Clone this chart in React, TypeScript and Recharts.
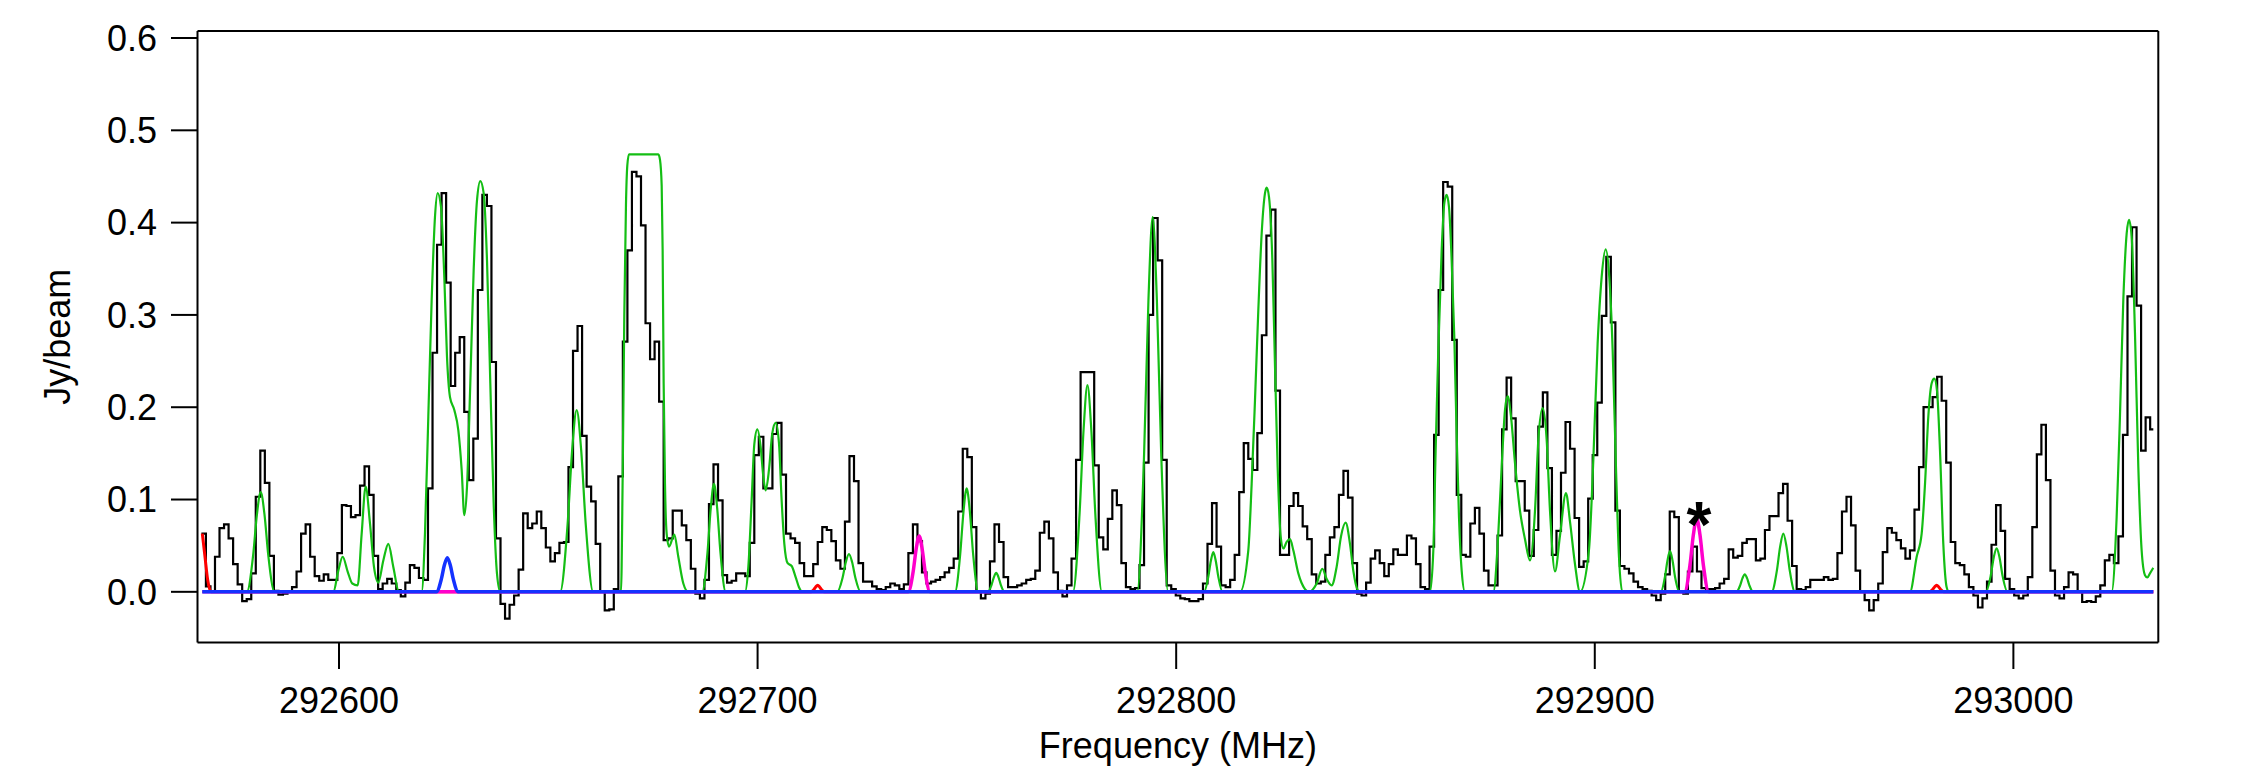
import React from 'react';
import { LineChart, Line, XAxis, YAxis, ReferenceDot } from 'recharts';

const FONT = '"Liberation Sans", Arial, Helvetica, sans-serif';

// channel grid of the observed spectrum (MHz)
const FREQ_START = 292567.13;
const CHAN_WIDTH = 1.08266;
const FREQ_END = 293033.43;

// observed intensity per channel (Jy/beam)
const observed: number[] = [
  0.063, 0.006, 0.000, 0.038, 0.069, 0.073, 0.058, 0.030, 0.008, -0.010,
  -0.008, 0.020, 0.103, 0.153, 0.118, 0.039, 0.001, -0.003, -0.002, 0.000,
  0.005, 0.022, 0.063, 0.073, 0.038, 0.017, 0.012, 0.019, 0.013, 0.013,
  0.042, 0.094, 0.093, 0.081, 0.083, 0.115, 0.136, 0.105, 0.039, 0.003,
  0.009, 0.014, 0.009, 0.002, -0.005, 0.010, 0.029, 0.026, 0.015, 0.013,
  0.112, 0.259, 0.376, 0.432, 0.335, 0.223, 0.259, 0.276, 0.195, 0.121,
  0.166, 0.327, 0.430, 0.418, 0.249, 0.058, -0.013, -0.029, -0.014, -0.004,
  0.024, 0.085, 0.069, 0.074, 0.087, 0.069, 0.048, 0.033, 0.042, 0.053,
  0.054, 0.135, 0.261, 0.288, 0.169, 0.114, 0.098, 0.052, 0.000, -0.020,
  -0.019, 0.003, 0.125, 0.271, 0.370, 0.455, 0.450, 0.397, 0.291, 0.252,
  0.271, 0.206, 0.056, 0.058, 0.088, 0.088, 0.072, 0.056, 0.025, -0.002,
  -0.007, 0.013, 0.095, 0.138, 0.099, 0.018, 0.010, 0.012, 0.020, 0.020,
  0.017, 0.053, 0.148, 0.168, 0.112, 0.112, 0.171, 0.183, 0.127, 0.063,
  0.058, 0.053, 0.031, 0.017, 0.017, 0.030, 0.054, 0.070, 0.067, 0.055,
  0.034, 0.025, 0.076, 0.147, 0.120, 0.031, 0.011, 0.011, 0.006, 0.003,
  0.002, 0.005, 0.009, 0.007, 0.003, 0.008, 0.042, 0.073, 0.055, 0.021,
  0.009, 0.011, 0.013, 0.016, 0.021, 0.026, 0.036, 0.087, 0.155, 0.146,
  0.070, 0.000, -0.007, -0.002, 0.033, 0.073, 0.054, 0.016, 0.005, 0.005,
  0.007, 0.009, 0.013, 0.014, 0.023, 0.064, 0.076, 0.058, 0.021, 0.001,
  -0.005, 0.007, 0.036, 0.143, 0.238, 0.238, 0.238, 0.137, 0.059, 0.046,
  0.079, 0.110, 0.094, 0.031, 0.005, 0.003, 0.004, 0.029, 0.140, 0.300,
  0.405, 0.359, 0.143, 0.007, 0.003, -0.004, -0.007, -0.008, -0.010, -0.010,
  -0.008, 0.009, 0.052, 0.096, 0.049, 0.007, 0.005, 0.013, 0.040, 0.108,
  0.161, 0.144, 0.132, 0.172, 0.278, 0.386, 0.414, 0.218, 0.040, 0.040,
  0.093, 0.107, 0.093, 0.071, 0.057, 0.019, 0.009, 0.011, 0.040, 0.059,
  0.070, 0.105, 0.131, 0.102, 0.031, -0.002, -0.004, 0.010, 0.036, 0.045,
  0.031, 0.017, 0.030, 0.046, 0.040, 0.040, 0.061, 0.058, 0.030, 0.005,
  0.003, 0.049, 0.170, 0.327, 0.444, 0.439, 0.273, 0.105, 0.040, 0.038,
  0.074, 0.091, 0.063, 0.023, 0.007, 0.007, 0.061, 0.176, 0.232, 0.188,
  0.120, 0.120, 0.088, 0.039, 0.067, 0.179, 0.216, 0.134, 0.040, 0.066,
  0.129, 0.184, 0.155, 0.080, 0.027, 0.033, 0.101, 0.148, 0.205, 0.299,
  0.363, 0.292, 0.088, 0.028, 0.025, 0.020, 0.011, 0.005, 0.003, 0.001,
  -0.004, -0.009, -0.002, 0.019, 0.087, 0.081, 0.000, -0.002, 0.022, 0.049,
  0.022, 0.004, 0.003, 0.003, 0.004, 0.009, 0.014, 0.046, 0.037, 0.039,
  0.053, 0.057, 0.057, 0.034, 0.036, 0.067, 0.082, 0.082, 0.107, 0.117,
  0.077, 0.028, 0.003, 0.002, 0.005, 0.013, 0.013, 0.013, 0.016, 0.013,
  0.014, 0.042, 0.087, 0.103, 0.072, 0.023, 0.000, -0.009, -0.020, -0.009,
  0.009, 0.043, 0.069, 0.064, 0.056, 0.047, 0.036, 0.045, 0.089, 0.135,
  0.200, 0.200, 0.211, 0.233, 0.207, 0.140, 0.054, 0.031, 0.029, 0.019,
  0.005, -0.004, -0.017, -0.007, 0.011, 0.051, 0.094, 0.066, 0.014, 0.003,
  -0.004, -0.007, -0.004, 0.016, 0.070, 0.149, 0.181, 0.121, 0.023, -0.004,
  -0.007, 0.005, 0.021, 0.019, 0.000, -0.011, -0.010, -0.011, -0.005, 0.007,
  0.034, 0.040, 0.031, 0.060, 0.170, 0.320, 0.395, 0.310, 0.153, 0.189, 0.176,
];

// full model (green): [MHz, Jy/beam]
const modelGreen: [number, number][] = [
  [292567.35, 0],
  [292578.0, 0], [292579.5, 0.04], [292580.4, 0.084], [292581.3, 0.108], [292582.2, 0.084], [292583.1, 0.04], [292584.6, 0],
  [292598.65, 0], [292599.84, 0.023], [292600.88, 0.038], [292602.07, 0.022], [292603.18, 0.009], [292604.46, 0.007],
  [292605.42, 0.063], [292606.37, 0.114], [292607.41, 0.074], [292608.36, 0.027], [292609.4, 0.01], [292610.59, 0.034],
  [292611.79, 0.052], [292612.98, 0.027], [292614.33, 0],
  [292619.75, 0], [292620.54, 0.063], [292621.34, 0.19], [292622.14, 0.316], [292622.93, 0.406], [292623.57, 0.432],
  [292624.37, 0.417], [292625.16, 0.341], [292625.8, 0.255], [292626.52, 0.211], [292627.55, 0.197], [292628.51, 0.175],
  [292629.31, 0.132], [292629.94, 0.083], [292630.58, 0.114], [292631.37, 0.226], [292632.17, 0.348], [292632.97, 0.424],
  [292633.76, 0.445], [292634.56, 0.432], [292635.36, 0.359], [292636.15, 0.226], [292636.95, 0.096], [292637.74, 0.02],
  [292638.54, 0],
  [292652.83, 0], [292654.61, 0.073], [292655.71, 0.154], [292656.78, 0.197], [292657.85, 0.154], [292658.95, 0.073], [292660.73, 0],
  [292667.37, 0], [292667.77, 0.125], [292668.16, 0.3], [292668.56, 0.42], [292668.88, 0.462], [292669.28, 0.474],
  [292676.29, 0.474], [292676.69, 0.468], [292677.09, 0.44], [292677.32, 0.37], [292677.56, 0.226], [292677.88, 0.117],
  [292678.28, 0.063], [292678.83, 0.049], [292680.11, 0.062], [292681.06, 0.038], [292682.26, 0.009], [292683.45, 0],
  [292686.78, 0], [292688.04, 0.043], [292688.82, 0.091], [292689.58, 0.117], [292690.34, 0.091], [292691.12, 0.043], [292692.38, 0],
  [292696.99, 0], [292697.79, 0.027], [292698.58, 0.099], [292699.22, 0.16], [292699.94, 0.176], [292700.73, 0.157],
  [292701.37, 0.125], [292701.93, 0.11], [292702.72, 0.132], [292703.52, 0.172], [292704.32, 0.183], [292705.11, 0.161],
  [292705.75, 0.099], [292706.39, 0.052], [292707.18, 0.031], [292708.14, 0.028], [292709.09, 0.016], [292709.89, 0.005],
  [292710.69, 0],
  [292719.03, 0], [292720.29, 0.015], [292721.07, 0.032], [292721.83, 0.041], [292722.59, 0.032], [292723.37, 0.015], [292724.63, 0],
  [292747.15, 0], [292748.41, 0.041], [292749.19, 0.087], [292749.95, 0.112], [292750.71, 0.087], [292751.49, 0.041], [292752.75, 0],
  [292755.0, 0], [292755.9, 0.0076], [292756.46, 0.016], [292757.0, 0.0206], [292757.54, 0.016], [292758.1, 0.0076], [292759.0, 0],
  [292775.35, 0], [292776.9, 0.083], [292777.87, 0.175], [292778.8, 0.224], [292779.73, 0.175], [292780.7, 0.083], [292782.25, 0],
  [292790.68, 0], [292792.34, 0.15], [292793.38, 0.317], [292794.38, 0.406], [292795.38, 0.317], [292796.42, 0.15], [292798.08, 0],
  [292806.67, 0], [292807.66, 0.016], [292808.28, 0.0335], [292808.87, 0.043], [292809.46, 0.0335], [292810.08, 0.016], [292811.07, 0],
  [292815.24, 0], [292817.23, 0.045], [292818.03, 0.117], [292818.83, 0.208], [292819.62, 0.305], [292820.42, 0.388],
  [292821.22, 0.432], [292821.62, 0.438], [292822.17, 0.428], [292822.97, 0.36], [292823.61, 0.244], [292824.24, 0.135],
  [292824.96, 0.06], [292825.6, 0.047], [292826.39, 0.054], [292827.19, 0.057], [292827.98, 0.045], [292829.18, 0.02],
  [292830.77, 0.003], [292831.73, 0],
  [292833.56, 0.009], [292834.91, 0.025], [292835.95, 0.014], [292837.14, 0.007], [292838.33, 0.027], [292839.37, 0.06],
  [292840.48, 0.075], [292841.52, 0.052], [292842.31, 0.023], [292843.35, 0.002], [292843.92, 0],
  [292860.63, 0], [292861.43, 0.045], [292861.98, 0.153], [292862.62, 0.262], [292863.42, 0.37], [292864.05, 0.421],
  [292864.61, 0.43], [292865.17, 0.417], [292865.81, 0.359], [292866.44, 0.276], [292867.0, 0.171], [292867.56, 0.081],
  [292868.2, 0.023], [292868.99, 0],
  [292875.76, 0], [292876.95, 0.063], [292877.75, 0.135], [292878.55, 0.197], [292879.18, 0.212], [292879.98, 0.19],
  [292880.93, 0.14], [292882.13, 0.088], [292883.33, 0.057], [292884.52, 0.034], [292885.72, 0.088], [292886.52, 0.165],
  [292887.55, 0.199], [292888.5, 0.165], [292889.3, 0.088], [292890.5, 0.022], [292891.69, 0.061], [292893.12, 0.107],
  [292894.08, 0.076], [292895.27, 0.03], [292896.47, 0],
  [292898.6, 0.045], [292899.65, 0.143], [292900.68, 0.269], [292901.64, 0.341], [292902.6, 0.371], [292903.47, 0.341],
  [292904.27, 0.262], [292905.06, 0.135], [292905.78, 0.038], [292906.58, 0],
  [292915.77, 0], [292916.76, 0.016], [292917.38, 0.0343], [292917.97, 0.044], [292918.56, 0.0343], [292919.18, 0.016], [292920.17, 0],
  [292933.83, 0], [292934.73, 0.007], [292935.29, 0.0148], [292935.83, 0.019], [292936.37, 0.0148], [292936.93, 0.007], [292937.83, 0],
  [292942.24, 0], [292943.5, 0.023], [292944.28, 0.049], [292945.04, 0.063], [292945.8, 0.049], [292946.58, 0.023], [292947.84, 0],
  [292975.3, 0], [292976.9, 0.038], [292978.09, 0.063], [292978.89, 0.117], [292979.68, 0.19], [292980.48, 0.226],
  [292981.11, 0.231], [292981.75, 0.218], [292982.47, 0.153], [292983.26, 0.052], [292984.06, 0.005], [292984.62, 0],
  [292993.4, 0], [292994.57, 0.017], [292995.3, 0.037], [292996.0, 0.047], [292996.7, 0.037], [292997.43, 0.017], [292998.6, 0],
  [293023.47, 0], [293024.67, 0.081], [293025.46, 0.19], [293026.26, 0.316], [293027.06, 0.388], [293027.62, 0.403],
  [293028.25, 0.385], [293029.05, 0.28], [293029.85, 0.135], [293030.64, 0.045], [293031.44, 0.018], [293032.0, 0.0155],
  [293032.63, 0.02], [293033.43, 0.026],
];

// red species model
const modelRed: [number, number][] = [
  [292567.35, 0.063], [292567.99, 0.038], [292568.63, 0.013], [292569.42, 0],
  [292712.75, 0], [292713.47, 0.0026], [292713.92, 0.0055], [292714.35, 0.007], [292714.78, 0.0055], [292715.23, 0.0026], [292715.95, 0],
  [292979.97, 0], [292980.73, 0.0026], [292981.21, 0.0055], [292981.67, 0.007], [292982.13, 0.0055], [292982.61, 0.0026], [292983.37, 0],
  [293033.43, 0],
];

// magenta species model
const modelMagenta: [number, number][] = [
  [292567.35, 0],
  [292736.0, 0], [292737.17, 0.022], [292737.9, 0.047], [292738.6, 0.0605], [292739.3, 0.047], [292740.03, 0.022], [292741.2, 0],
  [292921.44, 0], [292922.74, 0.029], [292923.56, 0.062], [292924.34, 0.0795], [292925.12, 0.062], [292925.94, 0.029], [292927.24, 0],
  [293033.43, 0],
];

// blue species model
const modelBlue: [number, number][] = [
  [292567.35, 0],
  [292623.28, 0], [292624.45, 0.0137], [292625.18, 0.029], [292625.88, 0.037], [292626.58, 0.029], [292627.31, 0.0137], [292628.48, 0],
  [293033.43, 0],
];

const starMark = { f: 292924.9, v: 0.0886, text: '*' };

const X_TICKS = [292600, 292700, 292800, 292900, 293000];
const Y_TICKS = [0, 0.1, 0.2, 0.3, 0.4, 0.5, 0.6];
const X_DOMAIN: [number, number] = [292566.2, 293034.62];
const Y_DOMAIN: [number, number] = [-0.0549, 0.6076];

const toPts = (arr: [number, number][]) => arr.map(([f, v]) => ({ f, v }));

const XLabel = (props: any) => {
  const vb = props.viewBox;
  return (
    <text x={vb.x + vb.width / 2} y={vb.y + 115} textAnchor="middle" fontSize={36} fontFamily={FONT} fill="#000">
      Frequency (MHz)
    </text>
  );
};

const YLabel = (props: any) => {
  const vb = props.viewBox;
  const cx = vb.x + 70;
  const cy = vb.y + vb.height / 2;
  return (
    <text x={cx} y={cy} transform={`rotate(-90 ${cx} ${cy})`} textAnchor="middle" fontSize={36} fontFamily={FONT} fill="#000">
      Jy/beam
    </text>
  );
};

const StarShape = (props: any) => (
  <text x={props.cx} y={props.cy + 37} textAnchor="middle" fontSize={64} fontWeight="bold" fontFamily={FONT} fill="#000">
    {starMark.text}
  </text>
);

export default function App() {
  const black = observed.map((v, i) => ({ f: FREQ_START + i * CHAN_WIDTH, v }));
  black.push({ f: FREQ_END, v: observed[observed.length - 1] });
  const green = toPts(modelGreen);
  const red = toPts(modelRed);
  const magenta = toPts(modelMagenta);
  const blue = toPts(modelBlue);

  const axisLine = { stroke: '#000', strokeWidth: 2 };
  const tickLine = { stroke: '#000', strokeWidth: 2 };
  const tickStyle = { fill: '#000', fontSize: 36, fontFamily: FONT };

  return (
    <div style={{ width: 2241, height: 770 }}>
      <style>{'body{margin:0;background:#fff}'}</style>
      <LineChart width={2241} height={770} margin={{ top: 0, right: 0, bottom: 0, left: 0 }}>
        <XAxis
          xAxisId="b" dataKey="f" type="number" domain={X_DOMAIN} ticks={X_TICKS} allowDataOverflow
          orientation="bottom" height={127.5} tickSize={26.5} tickMargin={18} interval={0}
          axisLine={axisLine} tickLine={tickLine} tick={tickStyle}
          tickFormatter={(v: number) => String(Math.round(v))}
          label={{ content: XLabel }}
        />
        <XAxis
          xAxisId="t" dataKey="f" type="number" domain={X_DOMAIN} ticks={X_TICKS} allowDataOverflow
          orientation="top" height={31} tickSize={24} interval={0}
          axisLine={axisLine} tickLine={tickLine} tick={false}
        />
        <YAxis
          yAxisId="l" type="number" domain={Y_DOMAIN} ticks={Y_TICKS} allowDataOverflow
          width={197.5} tickSize={26.5} tickMargin={14} interval={0}
          axisLine={axisLine} tickLine={tickLine} tick={tickStyle}
          tickFormatter={(v: number) => v.toFixed(1)}
          label={{ content: YLabel }}
        />
        <YAxis
          yAxisId="r" orientation="right" type="number" domain={Y_DOMAIN} ticks={Y_TICKS} allowDataOverflow
          width={82.7} tickSize={26} interval={0}
          axisLine={axisLine} tickLine={tickLine} tick={false}
        />
        <Line xAxisId="t" yAxisId="r" data={blue} dataKey="v" stroke="none" dot={false} isAnimationActive={false} legendType="none" />
        <Line xAxisId="b" yAxisId="l" data={black} dataKey="v" type="stepAfter" stroke="#000" strokeWidth={2.2} dot={false} isAnimationActive={false} />
        <Line xAxisId="b" yAxisId="l" data={green} dataKey="v" type="monotone" stroke="#14be14" strokeWidth={2.2} dot={false} isAnimationActive={false} />
        <Line xAxisId="b" yAxisId="l" data={red} dataKey="v" type="monotone" stroke="#ff0000" strokeWidth={3} dot={false} isAnimationActive={false} />
        <Line xAxisId="b" yAxisId="l" data={magenta} dataKey="v" type="monotone" stroke="#ff00cc" strokeWidth={3.5} dot={false} isAnimationActive={false} />
        <Line xAxisId="b" yAxisId="l" data={blue} dataKey="v" type="monotone" stroke="#1432ff" strokeWidth={3.5} dot={false} isAnimationActive={false} />
        <ReferenceDot xAxisId="b" yAxisId="l" x={starMark.f} y={starMark.v} r={0} shape={StarShape} />
      </LineChart>
    </div>
  );
}
